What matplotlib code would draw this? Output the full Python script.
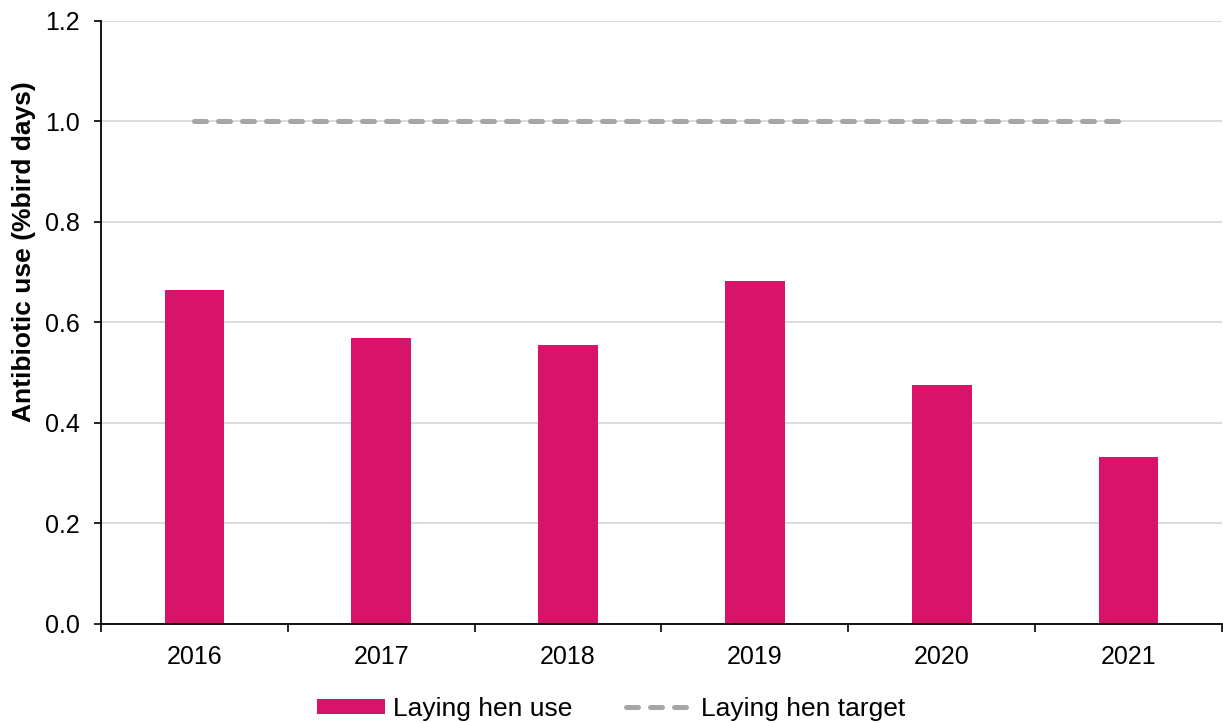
import matplotlib.pyplot as plt

plt.rcParams['font.family'] = ['Liberation Sans', 'DejaVu Sans']

# Data
years = ['2016', '2017', '2018', '2019', '2020', '2021']
use_values = [0.664, 0.569, 0.555, 0.682, 0.475, 0.332]
target_values = [1.0, 1.0, 1.0, 1.0, 1.0, 1.0]

bar_color = '#D7136A'
target_color = '#A6A6A6'

fig = plt.figure(figsize=(12.23, 7.23), dpi=100)
ax = fig.add_axes([0.0826, 0.137, 0.9165, 0.834])

x = list(range(len(years)))
bars = ax.bar(x, use_values, width=0.32, color=bar_color, label='Laying hen use', zorder=2)
line, = ax.plot(x, target_values, color=target_color, linewidth=3.6, dashes=(2.4, 2.4),
                dash_capstyle='round', label='Laying hen target', zorder=3)

ax.set_xlim(-0.5, len(years) - 0.5)
ax.set_ylim(0, 1.2)
ax.set_yticks([0, 0.2, 0.4, 0.6, 0.8, 1.0, 1.2])
ax.set_yticklabels(['0.0', '0.2', '0.4', '0.6', '0.8', '1.0', '1.2'])
ax.set_xticks(x)
ax.set_xticklabels(years)
ax.set_xticks([i - 0.5 for i in range(len(years) + 1)], minor=True)
ax.tick_params(axis='x', which='major', length=0, pad=15, labelsize=18)
ax.tick_params(axis='x', which='minor', length=6, width=1.2, direction='out')
ax.tick_params(axis='y', length=5, width=1.2, direction='out', labelsize=18, pad=10)

ax.yaxis.grid(True, color='#D9D9D9', linewidth=1.3, zorder=0)
ax.set_axisbelow(True)

ax.set_ylabel('Antibiotic use (%bird days)', fontsize=19, fontweight='bold')
ax.yaxis.set_label_coords(-0.058, 0.617)

ax.spines['top'].set_visible(False)
ax.spines['right'].set_visible(False)
ax.spines['left'].set_linewidth(1.3)
ax.spines['bottom'].set_linewidth(1.3)

fig.legend(handles=[bars, line], loc='lower center', bbox_to_anchor=(0.5, -0.03), ncol=2,
           frameon=False, fontsize=19, handlelength=2.55, handleheight=0.5,
           columnspacing=2.05, handletextpad=0.3)

plt.savefig('out.png', dpi=100)
